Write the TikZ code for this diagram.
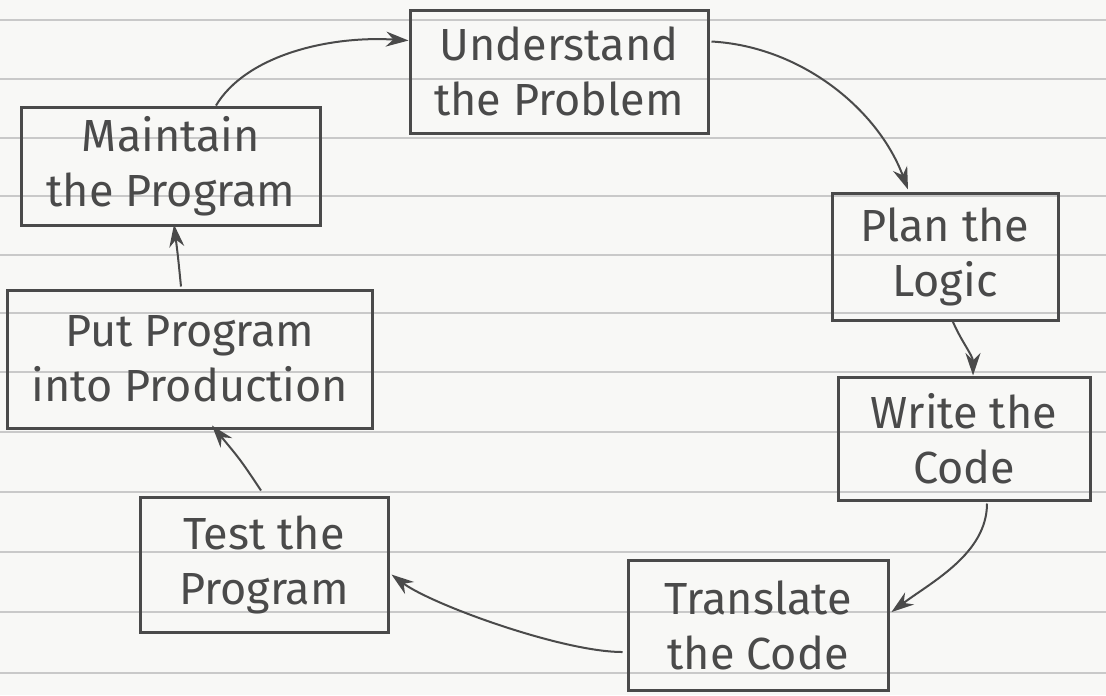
\documentclass[tikz,border=0pt]{standalone}
\usepackage{fontspec}
\setmainfont{Fira Sans}
\usetikzlibrary{calc,arrows.meta}
\definecolor{ink}{HTML}{4A4A4A}
\definecolor{rule}{HTML}{C9C9C9}
\definecolor{paper}{HTML}{F8F8F6}
\tikzset{
  stepbox/.style={draw=ink, line width=1.2pt, text=ink, align=center, inner sep=2pt,
    font=\fontsize{18}{22}\selectfont},
  arr/.style={draw=ink, line width=0.8pt, -{Stealth[length=9pt,width=6pt]}},
  ruling/.style={draw=rule, line width=0.5pt}
}
\begin{document}
\begin{tikzpicture}[x=0.4pt,y=-0.4pt]
\fill[paper] (0,0) rectangle (1106,695);
\useasboundingbox (0,0) rectangle (1106,695);
\foreach \yy in {20,79,138,196,255,313,372,432,492,552,612,673}
  \draw[ruling] (0,\yy) -- (1106,\yy);

\node[stepbox, minimum width=119.2pt, minimum height=49.2pt] (u) at (559,71.5) {Understand\\the Problem};
\node[stepbox, minimum width=90.4pt, minimum height=50.8pt] (p) at (945,256.5) {Plan the\\Logic};
\node[stepbox, minimum width=100.8pt, minimum height=49.2pt] (w) at (964,438.5) {Write the\\Code};
\node[stepbox, minimum width=104pt, minimum height=52pt] (t) at (758,625) {Translate\\the Code};
\node[stepbox, minimum width=99.2pt, minimum height=54pt] (s) at (264,564.5) {Test the\\Program};
\node[stepbox, minimum width=145.6pt, minimum height=55.2pt] (r) at (190,359) {Put Program\\into Production};
\node[stepbox, minimum width=119.2pt, minimum height=47.2pt] (m) at (171,166) {Maintain\\the Program};

\draw[arr] ($(m.north)+(45,0)$) .. controls +(30,-50) and +(-80,-5) .. ($(u.west)+(0,-31)$);
\draw[arr] ($(u.north east)+(2,33)$) .. controls +(90,5) and +(-30,-80) .. ($(p.north)+(-37,-2)$);
\draw[arr] ($(p.south)+(7,-2)$) .. controls +(8,20) and +(0,-20) .. ($(w.north)+(9,0)$);
\draw[arr] ($(w.south)+(23,2)$) .. controls +(0,50) and +(40,-30) .. ($(t.east)+(2,-13)$);
\draw[arr] ($(t.west)+(-4,27)$) .. controls +(-60,0) and +(40,30) .. ($(s.east)+(2,10)$);
\draw[arr] ($(s.north)+(-3,-5)$) .. controls +(-20,-30) .. ($(r.south)+(22,-4)$);
\draw[arr] ($(r.north)+(-9,-2)$) .. controls +(-3,-30) .. ($(m.south)+(3,-2)$);
\end{tikzpicture}
\end{document}
